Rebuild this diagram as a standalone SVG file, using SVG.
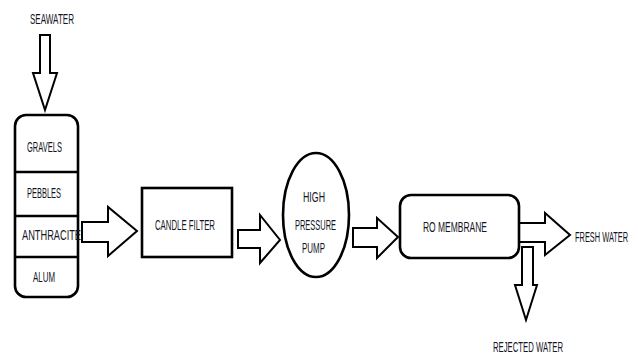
<svg xmlns="http://www.w3.org/2000/svg" width="638" height="356" viewBox="0 0 638 356">
<style>
.box{fill:#fff;stroke:#000;stroke-width:2.6}
.arr{fill:#fff;stroke:#000;stroke-width:2;stroke-linejoin:miter}
.t{font-family:"Liberation Sans",Arial,sans-serif;font-size:14px;fill:#15151f;text-anchor:start}
</style>
<rect width="638" height="356" fill="#fff"/>
<g id="connectors">
<path class="arr" d="M40,35 H50 V73 H57 L45,110 L33,73 H40 Z"/>
<path class="arr" d="M82,222 H108 V207 L137,231 L108,256 V242 H82 Z"/>
<path class="arr" d="M238,230 H260 V215 L280,240 L260,263 V248 H238 Z"/>
<path class="arr" d="M353,228 H377 V218 L398,237 L377,258 V247 H353 Z"/>
<path class="arr" d="M519,223 H545 V213 L570,235 L545,255 V242 H519 Z"/>
<path class="arr" d="M522,247 H533 V285 H537 L526,320 L515,285 H522 Z"/>
</g>
<g id="seawater">
<text class="t" x="30" y="24" textLength="44" lengthAdjust="spacingAndGlyphs">SEAWATER</text>
</g>
<g id="filter-column">
<rect class="box" x="15" y="115" width="63" height="182" rx="11"/>
<line x1="15" y1="172" x2="78" y2="172" stroke="#000" stroke-width="2.6"/>
<line x1="14" y1="216" x2="78" y2="216" stroke="#000" stroke-width="2.6"/>
<line x1="15" y1="257" x2="78" y2="257" stroke="#000" stroke-width="2.6"/>
<text class="t" x="27" y="152" textLength="35" lengthAdjust="spacingAndGlyphs">GRAVELS</text>
<text class="t" x="27" y="198" textLength="34" lengthAdjust="spacingAndGlyphs">PEBBLES</text>
<text class="t" x="22" y="240" textLength="59" lengthAdjust="spacingAndGlyphs">ANTHRACITE</text>
<text class="t" x="33" y="282" textLength="22" lengthAdjust="spacingAndGlyphs">ALUM</text>
</g>
<g id="candle-filter">
<rect class="box" x="142" y="188" width="90" height="69"/>
<text class="t" x="155" y="230" textLength="60" lengthAdjust="spacingAndGlyphs">CANDLE FILTER</text>
</g>
<g id="pump">
<ellipse class="box" cx="316" cy="215" rx="33" ry="62" stroke-width="2"/>
<text class="t" x="303" y="202" textLength="22" lengthAdjust="spacingAndGlyphs">HIGH</text>
<text class="t" x="295" y="230" textLength="41" lengthAdjust="spacingAndGlyphs">PRESSURE</text>
<text class="t" x="302" y="253" textLength="23" lengthAdjust="spacingAndGlyphs">PUMP</text>
</g>
<g id="ro-membrane">
<rect class="box" x="400" y="195" width="119" height="63" rx="11"/>
<text class="t" x="423" y="232" textLength="64" lengthAdjust="spacingAndGlyphs">RO MEMBRANE</text>
</g>
<g id="fresh-water">
<text class="t" transform="translate(575,242) scale(0.53,1)" x="0" y="0">FRESH WATER</text>
</g>
<g id="rejected-water">
<text class="t" x="493" y="352" textLength="70" lengthAdjust="spacingAndGlyphs">REJECTED WATER</text>
</g>
</svg>
